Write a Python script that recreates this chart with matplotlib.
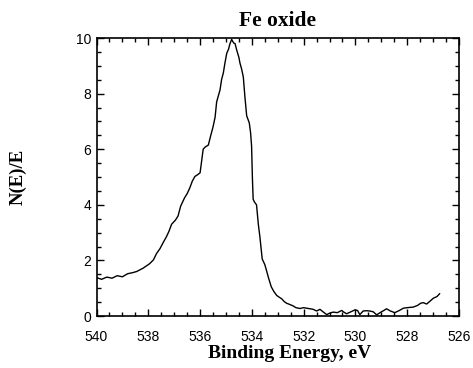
import matplotlib
matplotlib.use("Agg")
import matplotlib.pyplot as plt
from matplotlib.ticker import MultipleLocator

energy = [540.0, 539.8, 539.6, 539.4, 539.2, 539.0, 538.8, 538.6, 538.45, 538.2, 537.95, 537.8, 537.68,
          537.55, 537.42, 537.3, 537.2, 537.1, 536.95, 536.85, 536.75, 536.6, 536.5, 536.4, 536.3, 536.2,
          536.1, 536.0, 535.95, 535.88, 535.8, 535.68, 535.6, 535.5, 535.42, 535.36, 535.3, 535.23, 535.17,
          535.1, 535.04, 534.97, 534.9, 534.85, 534.78, 534.74, 534.7, 534.65, 534.58, 534.5, 534.46, 534.4,
          534.33, 534.27, 534.2, 534.1, 534.05, 534.01, 533.98, 533.95, 533.9, 533.82, 533.75, 533.69, 533.6,
          533.5, 533.43, 533.35, 533.25, 533.15, 533.04, 532.95, 532.85, 532.75, 532.66, 532.55, 532.4, 532.3,
          532.14, 532.0, 531.88, 531.75, 531.63, 531.5, 531.37, 531.25, 531.11, 531.0, 530.86, 530.7, 530.53,
          530.45, 530.34, 530.2, 530.02, 529.92, 529.83, 529.7, 529.57, 529.45, 529.31, 529.18, 529.05, 528.9,
          528.8, 528.65, 528.48, 528.3, 528.15, 528.0, 527.77, 527.6, 527.48, 527.38, 527.25, 527.1, 526.99,
          526.85, 526.75]
intensity = [1.38, 1.32, 1.40, 1.36, 1.45, 1.41, 1.52, 1.56, 1.60, 1.72, 1.88, 2.02, 2.25,
             2.42, 2.65, 2.85, 3.05, 3.30, 3.45, 3.60, 3.95, 4.25, 4.40, 4.60, 4.85, 5.02,
             5.08, 5.15, 5.50, 6.00, 6.08, 6.15, 6.45, 6.80, 7.15, 7.70, 7.90, 8.13, 8.50,
             8.75, 9.10, 9.45, 9.60, 9.78, 9.95, 9.88, 9.82, 9.80, 9.55, 9.30, 9.10, 8.90,
             8.60, 7.90, 7.20, 6.95, 6.60, 6.10, 5.00, 4.20, 4.10, 4.00, 3.30, 2.85, 2.05,
             1.85, 1.62, 1.35, 1.05, 0.88, 0.74, 0.68, 0.62, 0.52, 0.46, 0.42, 0.36, 0.30,
             0.27, 0.30, 0.28, 0.26, 0.24, 0.18, 0.24, 0.15, 0.05, 0.10, 0.14, 0.12, 0.20,
             0.14, 0.08, 0.14, 0.22, 0.20, 0.05, 0.18, 0.19, 0.18, 0.15, 0.04, 0.12, 0.20,
             0.26, 0.18, 0.12, 0.20, 0.28, 0.30, 0.32, 0.38, 0.46, 0.48, 0.43, 0.55, 0.64,
             0.70, 0.80]

title = "Fe oxide"
xlabel = "Binding Energy, eV"
ylabel = "N(E)/E"

fig = plt.figure(figsize=(4.73, 3.68), dpi=100)
ax = fig.add_axes([96.5 / 473, 1 - 316 / 368, (459 - 96.5) / 473, (316 - 38) / 368])
ax.plot(energy, intensity, color="black", lw=1.0)
ax.set_xlim(540, 526)
ax.set_ylim(0, 10)
ax.xaxis.set_major_locator(MultipleLocator(2))
ax.xaxis.set_minor_locator(MultipleLocator(0.5))
ax.yaxis.set_major_locator(MultipleLocator(2))
ax.yaxis.set_minor_locator(MultipleLocator(0.5))
ax.tick_params(which="both", direction="in", top=True, right=True, width=1, colors="black")
ax.tick_params(which="major", length=5)
ax.tick_params(which="minor", length=3)
for lab in ax.get_xticklabels() + ax.get_yticklabels():
    lab.set_family("Liberation Sans")
    lab.set_fontsize(10)
ax.tick_params(axis="x", pad=10)
ax.tick_params(axis="y", pad=4)
for s in ax.spines.values():
    s.set_linewidth(1.2)
ax.set_title(title, fontfamily="Liberation Serif", fontweight="bold", fontsize=15.5, pad=9)
ax.set_xlabel(xlabel, fontfamily="Liberation Serif", fontweight="bold", fontsize=14)
ax.xaxis.set_label_coords((290 - 96.5) / (459 - 96.5), -(353 - 316) / (316 - 38))
ax.xaxis.label.set_va("center")
ax.yaxis.set_label_coords(-(96.5 - 18.5) / (459 - 96.5), 0.5)
ax.set_ylabel(ylabel, fontfamily="Liberation Serif", fontweight="bold", fontsize=13.5, va="center")
fig.savefig("out.png", dpi=100)
